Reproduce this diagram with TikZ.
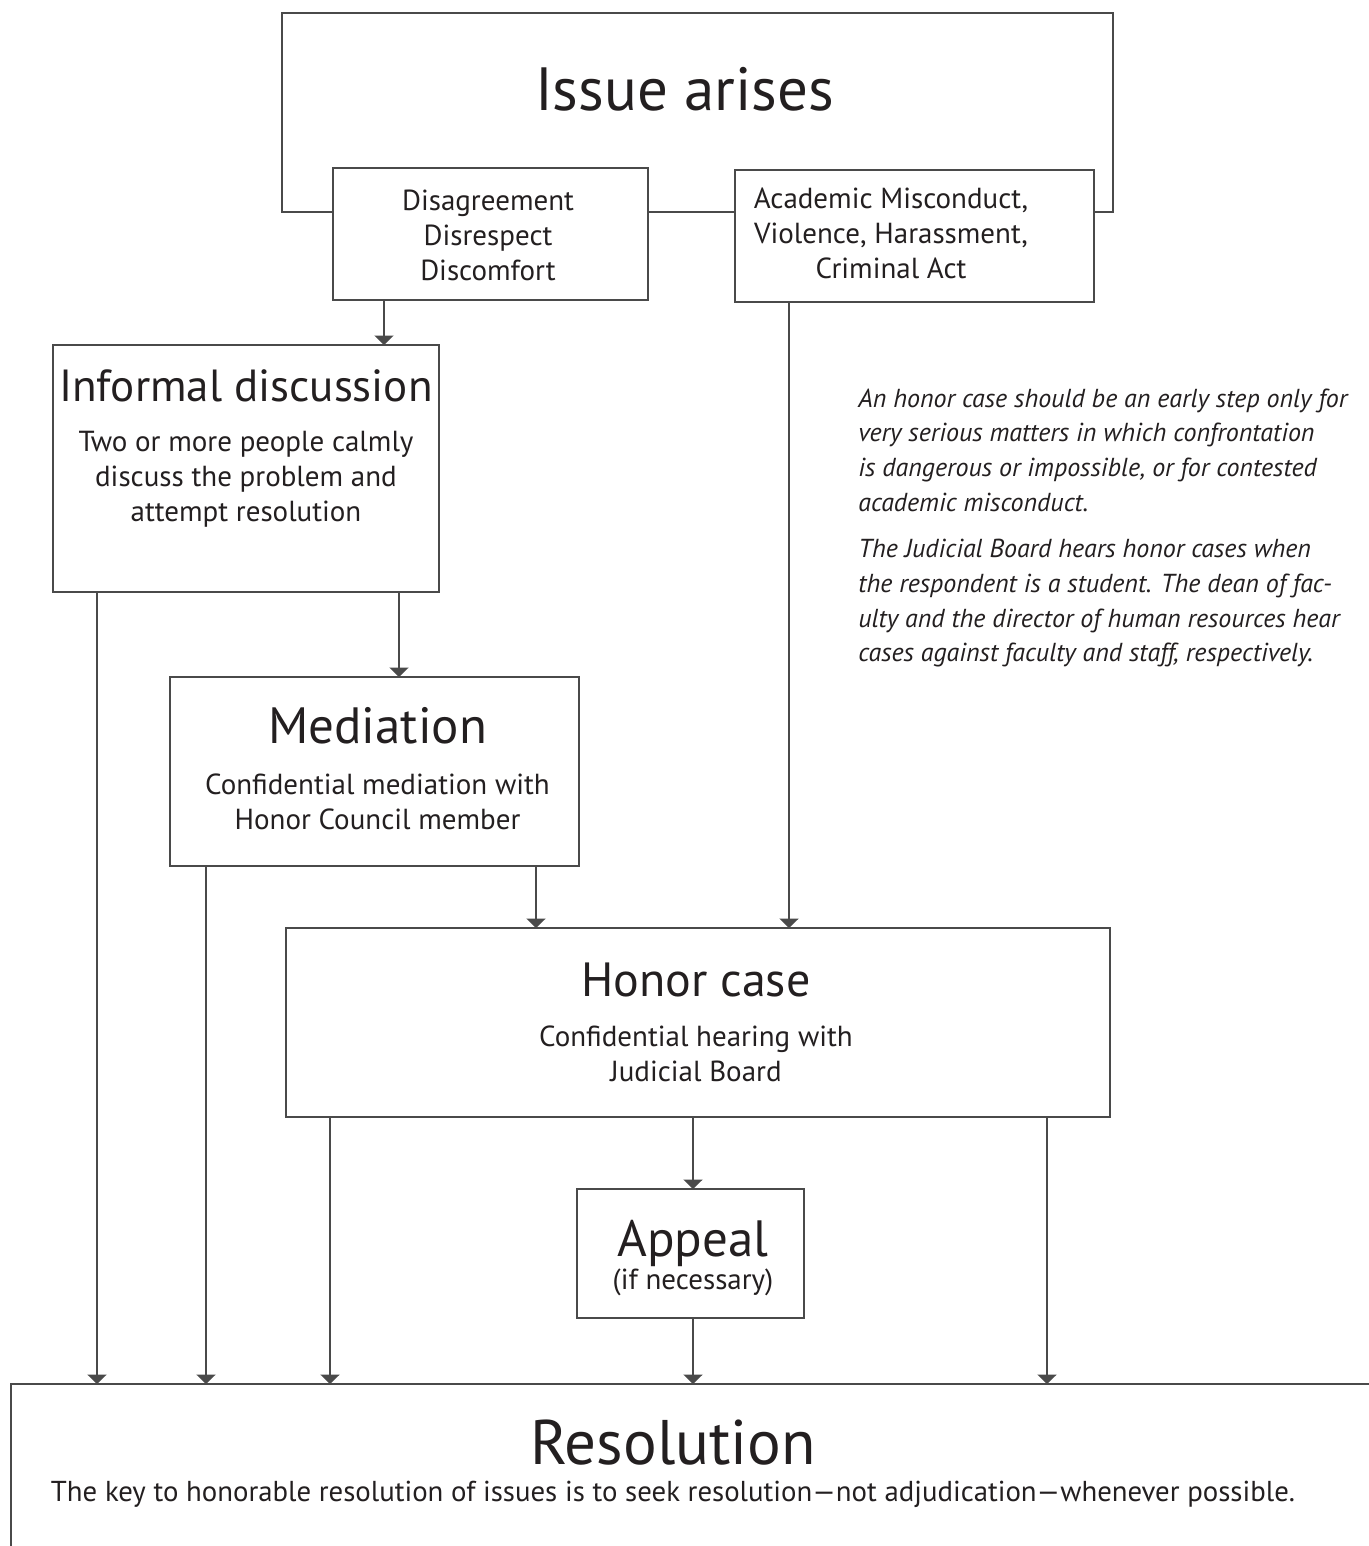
\documentclass[tikz,border=0pt]{standalone}
\usepackage{fontspec}
\setmainfont{PT Sans}
\usetikzlibrary{arrows.meta}
\definecolor{ln}{HTML}{4A4A4A}
\definecolor{tx}{HTML}{231F20}
\begin{document}
\begin{tikzpicture}[x=0.5pt,y=-0.5pt,
  box/.style={draw=ln,line width=0.75pt,fill=white,inner sep=0pt,outer sep=0pt},
  arr/.style={draw=ln,line width=0.75pt,-{Triangle[width=9.5pt,length=4.7pt]}},
  txt/.style={text=tx,inner sep=0pt,align=center},
  title/.style={txt,font=\fontsize{24}{28}\selectfont},
  body/.style={txt,font=\fontsize{14.5}{17.5}\selectfont},
  note/.style={text=tx,inner sep=0pt,align=left,font=\fontsize{13}{17.35}\selectfont\itshape}]
\useasboundingbox[fill=white] (0,0) rectangle (1369,1546);
% boxes
\node[box,minimum width=415.5pt,minimum height=99.5pt] (issue) at (697.5,112.5) {};
\node[box,minimum width=157.5pt,minimum height=66pt] (dis) at (490.5,234) {};
\node[box,minimum width=179.5pt,minimum height=66pt] (aca) at (914.5,236) {};
\node[box,minimum width=193pt,minimum height=123.5pt] (inf) at (246,468.5) {};
\node[box,minimum width=204.5pt,minimum height=94.5pt] (med) at (374.5,771.5) {};
\node[box,minimum width=412pt,minimum height=94.5pt] (hon) at (698,1022.5) {};
\node[box,minimum width=113.5pt,minimum height=64.5pt] (app) at (690.5,1253.5) {};
\node[box,minimum width=694.5pt,minimum height=98pt] (res) at (705.5,1482) {};
% texts
\node[txt,anchor=base,font=\fontsize{30.5}{36}\selectfont] (tIssue) at (684.5,111) {Issue arises};
\node[body] (tDis) at (488,235) {Disagreement\\Disrespect\\Discomfort};
\node[body] (tAca) at (891,233) {Academic Misconduct,\\Violence, Harassment,\\Criminal Act};
\node[title,anchor=base,font=\fontsize{22.5}{28}\selectfont] (tInf) at (246,401) {Informal discussion};
\node[body] (bInf) at (246,479) {Two or more people calmly\\discuss the problem and\\attempt resolution};
\node[title,anchor=base,font=\fontsize{25.5}{30}\selectfont] (tMed) at (377.5,743) {Mediation};
\node[body] (bMed) at (377.5,802) {Confidential mediation with\\Honor Council member};
\node[title,anchor=base] (tHon) at (696,996) {Honor case};
\node[body] (bHon) at (696,1054) {Confidential hearing with\\Judicial Board};
\node[title,anchor=base,font=\fontsize{25.5}{30}\selectfont] (tApp) at (693,1256) {Appeal};
\node[body,anchor=base] (bApp) at (693,1289) {(if necessary)};
\node[txt,anchor=base,font=\fontsize{31.5}{36}\selectfont] (tRes) at (673,1464) {Resolution};
\node[txt,anchor=base,font=\fontsize{14.4}{18}\selectfont] (bRes) at (673,1501) {The key to honorable resolution of issues is to seek resolution---not adjudication---whenever possible.};
\node[note,anchor=west] (noteA) at (858,528) {An honor case should be an early step only for\\very serious matters in which confrontation\\is dangerous or impossible, or for contested\\academic misconduct.\\[6pt]The Judicial Board hears honor cases when\\the respondent is a student. The dean of fac-\\ulty and the director of human resources hear\\cases against faculty and staff, respectively.};
% connector x positions
\coordinate (c1) at (384,0);
\coordinate (c2) at (399,0);
\coordinate (c3) at (536,0);
\coordinate (c4) at (789,0);
\coordinate (c5) at (693,0);
\coordinate (r1) at (97,0);
\coordinate (r2) at (206,0);
\coordinate (r3) at (330,0);
\coordinate (r4) at (1047,0);
\draw[arr] (dis.south -| c1) -- (inf.north -| c1);
\draw[arr] (inf.south -| c2) -- (med.north -| c2);
\draw[arr] (med.south -| c3) -- (hon.north -| c3);
\draw[arr] (aca.south -| c4) -- (hon.north -| c4);
\draw[arr] (hon.south -| c5) -- (app.north -| c5);
\draw[arr] (app.south -| c5) -- (res.north -| c5);
\draw[arr] (inf.south -| r1) -- (res.north -| r1);
\draw[arr] (med.south -| r2) -- (res.north -| r2);
\draw[arr] (hon.south -| r3) -- (res.north -| r3);
\draw[arr] (hon.south -| r4) -- (res.north -| r4);
\end{tikzpicture}
\end{document}
